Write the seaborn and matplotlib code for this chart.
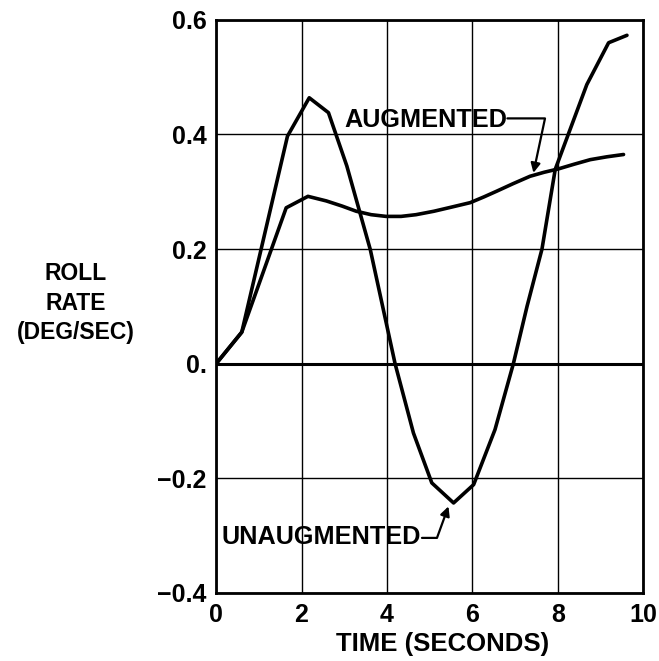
import numpy as np
import pandas as pd
import seaborn as sns
import matplotlib.pyplot as plt

# Roll rate time histories
t_unaug = [0, 0.6, 1.67, 2.18, 2.63, 3.06, 3.61, 4.19, 4.62, 5.05, 5.56,
           6.03, 6.53, 6.96, 7.28, 7.63, 7.94, 8.68, 9.19, 9.62]
rate_unaug = [0, 0.055, 0.397, 0.464, 0.438, 0.345, 0.199, 0.0, -0.121, -0.208, -0.243,
              -0.211, -0.115, 0.0, 0.10, 0.20, 0.339, 0.487, 0.560, 0.573]

t_aug = [0, 0.6, 1.64, 2.15, 2.58, 2.95, 3.28, 3.63, 3.98, 4.33, 4.68, 5.1, 5.5,
         5.95, 6.27, 6.57, 6.95, 7.35, 7.68, 8.02, 8.38, 8.76, 9.15, 9.54]
rate_aug = [0, 0.055, 0.272, 0.292, 0.284, 0.275, 0.266, 0.260, 0.257, 0.257, 0.260, 0.266, 0.273,
            0.281, 0.291, 0.301, 0.314, 0.327, 0.334, 0.340, 0.348, 0.356, 0.361, 0.365]

x_ticks = [0, 2, 4, 6, 8, 10]
y_ticks = [-0.4, -0.2, 0.0, 0.2, 0.4, 0.6]
y_tick_labels = ["\u22120.4", "\u22120.2", "0.", "0.2", "0.4", "0.6"]

sns.set_style("white")
plt.rcParams['font.family'] = ['Liberation Sans', 'DejaVu Sans']
plt.rcParams['font.weight'] = 'bold'
plt.rcParams['text.color'] = 'black'
plt.rcParams['axes.labelcolor'] = 'black'
plt.rcParams['xtick.color'] = 'black'
plt.rcParams['ytick.color'] = 'black'

df = pd.concat([
    pd.DataFrame({'time': t_unaug, 'rate': rate_unaug, 'case': 'UNAUGMENTED'}),
    pd.DataFrame({'time': t_aug, 'rate': rate_aug, 'case': 'AUGMENTED'}),
])

fig = plt.figure(figsize=(6.59, 6.61), dpi=100)
ax = fig.add_axes([0.328, 0.103, 0.648, 0.867])

sns.lineplot(data=df, x='time', y='rate', units='case', estimator=None,
             color='black', linewidth=2.6, sort=False, ax=ax, legend=False)

ax.set_xlim(0, 10)
ax.set_ylim(-0.4, 0.6)
ax.set_xticks(x_ticks)
ax.set_yticks(y_ticks)
ax.set_yticklabels(y_tick_labels)
ax.tick_params(length=0, labelsize=18, pad=7)
for lab in ax.get_xticklabels() + ax.get_yticklabels():
    lab.set_fontweight('bold')

ax.grid(True, color='black', linewidth=1.0)
ax.axhline(0, color='black', linewidth=2.2)
for s in ax.spines.values():
    s.set_color('black')
    s.set_linewidth(2.0)

ax.set_xlabel('TIME (SECONDS)', fontsize=18.5, fontweight='bold')
ax.xaxis.set_label_coords(0.53, -0.068)
ax.set_ylabel('')
fig.text(76 / 659, 1 - 303 / 661, 'ROLL\nRATE\n(DEG/SEC)', ha='center', va='center',
         multialignment='center', fontsize=16.5, fontweight='bold', linespacing=1.35)

# annotations with bent leader lines
ax.text(3.0, 0.426, 'AUGMENTED', fontsize=18.2, fontweight='bold', va='center', ha='left')
ax.annotate('', xy=(7.43, 0.333), xytext=(6.82, 0.428),
            arrowprops=dict(arrowstyle='-|>', color='black', lw=1.6, shrinkA=0, shrinkB=0,
                            mutation_scale=14,
                            connectionstyle='angle,angleA=0,angleB=78,rad=0'))

ax.text(0.13, -0.302, 'UNAUGMENTED', fontsize=18.2, fontweight='bold', va='center', ha='left')
ax.annotate('', xy=(5.44, -0.249), xytext=(4.82, -0.304),
            arrowprops=dict(arrowstyle='-|>', color='black', lw=1.6, shrinkA=0, shrinkB=0,
                            mutation_scale=14,
                            connectionstyle='angle,angleA=0,angleB=70,rad=0'))

fig.savefig('out.png', dpi=100)
